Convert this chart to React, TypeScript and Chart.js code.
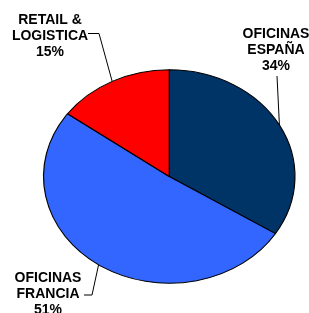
import React, { useEffect, useRef } from "react";
import { Chart, registerables } from "chart.js";

Chart.register(...registerables);

const categories = ["OFICINAS ESPAÑA", "OFICINAS FRANCIA", "RETAIL & LOGISTICA"];
const values = [34, 51, 15];
const labelLines = [
  ["OFICINAS", "ESPAÑA", "34%"],
  ["OFICINAS", "FRANCIA", "51%"],
  ["RETAIL &", "LOGISTICA", "15%"],
];
const colors = ["#003366", "#3366FF", "#FF0000"];

// layout for labels (text centre x, first line y, leader path before edge point)
const labelLayout = [
  { x: 276, y: 34, path: [[277, 76]] },
  { x: 48, y: 278, path: [[84, 295], [92, 295]] },
  { x: 50, y: 20, path: [[88, 33.5], [99, 33.5]] },
];

const SX = 126 / 107;

const ellipsePlugin = {
  id: "ellipse",
  beforeDatasetsDraw(chart: any) {
    const arc = chart.getDatasetMeta(0).data[0];
    const ctx = chart.ctx;
    ctx.save();
    ctx.translate(arc.x, arc.y);
    ctx.scale(SX, 1);
    ctx.translate(-arc.x, -arc.y);
  },
  afterDatasetsDraw(chart: any) {
    chart.ctx.restore();
  },
};

const labelPlugin = {
  id: "pieLabels",
  afterDraw(chart: any) {
    const ctx = chart.ctx;
    const meta = chart.getDatasetMeta(0);
    ctx.save();
    meta.data.forEach((arc: any, i: number) => {
      const mid = (arc.startAngle + arc.endAngle) / 2;
      const px = arc.x + Math.cos(mid) * arc.outerRadius * SX;
      const py = arc.y + Math.sin(mid) * arc.outerRadius;
      const L = labelLayout[i];
      ctx.strokeStyle = "#000";
      ctx.lineWidth = 1;
      ctx.beginPath();
      L.path.forEach((p: number[], k: number) => {
        if (k === 0) ctx.moveTo(p[0], p[1]);
        else ctx.lineTo(p[0], p[1]);
      });
      ctx.lineTo(px, py);
      ctx.stroke();
      ctx.fillStyle = "#000";
      ctx.font = "bold 14px 'Liberation Sans', Arial, sans-serif";
      ctx.textAlign = "center";
      ctx.textBaseline = "middle";
      labelLines[i].forEach((t, k) => {
        ctx.fillText(t, L.x, L.y + k * 16);
      });
    });
    ctx.restore();
  },
};

export default function App() {
  const ref = useRef<HTMLCanvasElement>(null);
  useEffect(() => {
    if (!ref.current) return;
    const chart = new Chart(ref.current, {
      type: "pie",
      data: {
        labels: categories,
        datasets: [
          {
            data: values,
            backgroundColor: colors,
            borderColor: "#000",
            borderWidth: 1,
            clip: false,
          } as any,
        ],
      },
      options: {
        animation: false,
        responsive: false,
        events: [],
        layout: { padding: { left: 62, right: 32.5, top: 69, bottom: 29 } },
        plugins: { legend: { display: false }, tooltip: { enabled: false } },
      },
      plugins: [ellipsePlugin, labelPlugin],
    });
    return () => chart.destroy();
  }, []);
  return (
    <div style={{ position: "absolute", left: 0, top: 0, width: 309, height: 313, background: "#fff" }}>
      <canvas ref={ref} width={309} height={313} style={{ display: "block" }} />
    </div>
  );
}
